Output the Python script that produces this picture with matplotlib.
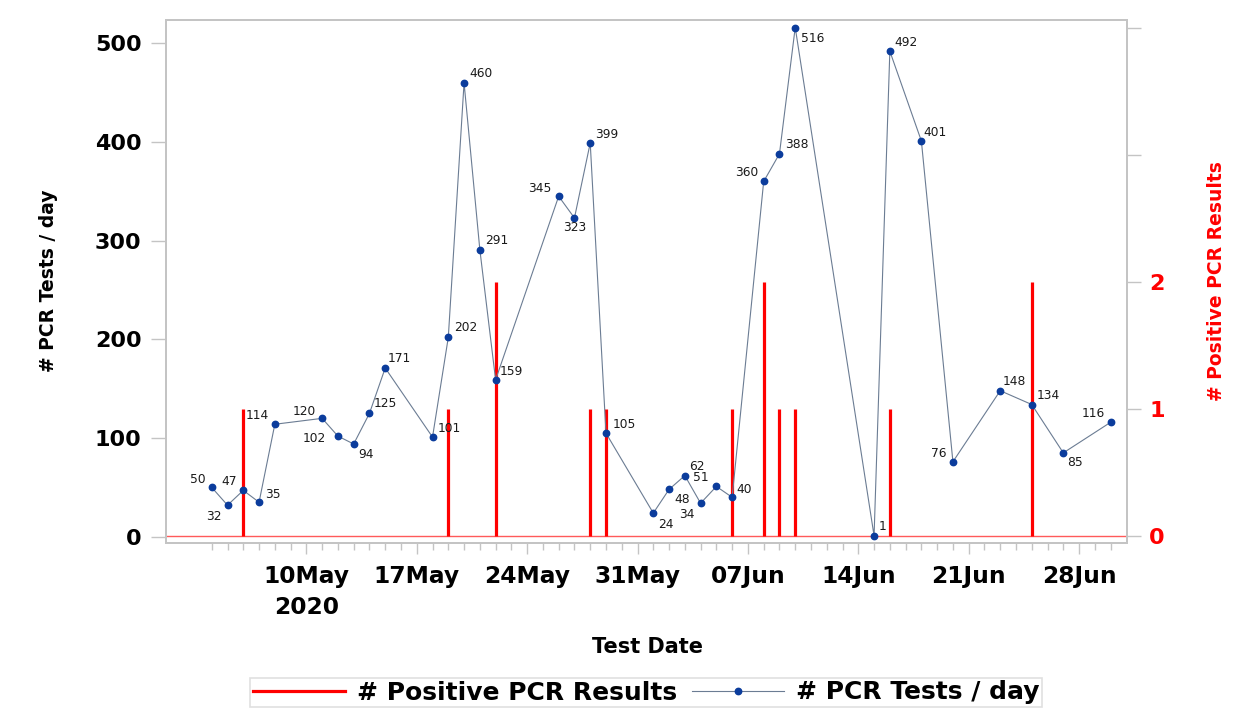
import matplotlib
matplotlib.use("Agg")
import matplotlib.pyplot as plt
import matplotlib.dates as mdates
from matplotlib.lines import Line2D
import numpy as np
import pandas as pd

# ---- data ----
test_dates = ["2020-05-04", "2020-05-05", "2020-05-06", "2020-05-07", "2020-05-08",
              "2020-05-11", "2020-05-12", "2020-05-13", "2020-05-14", "2020-05-15",
              "2020-05-18", "2020-05-19", "2020-05-20", "2020-05-21", "2020-05-22",
              "2020-05-26", "2020-05-27", "2020-05-28", "2020-05-29",
              "2020-06-01", "2020-06-02", "2020-06-03", "2020-06-04", "2020-06-05", "2020-06-06",
              "2020-06-08", "2020-06-09", "2020-06-10", "2020-06-15", "2020-06-16",
              "2020-06-18", "2020-06-20", "2020-06-23", "2020-06-25", "2020-06-27", "2020-06-30"]
tests_per_day = [50, 32, 47, 35, 114,
                 120, 102, 94, 125, 171,
                 101, 202, 460, 291, 159,
                 345, 323, 399, 105,
                 24, 48, 62, 34, 51, 40,
                 360, 388, 516, 1, 492,
                 401, 76, 148, 134, 85, 116]

positive_dates = ["2020-05-06", "2020-05-19", "2020-05-22", "2020-05-28", "2020-05-29",
                  "2020-06-06", "2020-06-08", "2020-06-09", "2020-06-10", "2020-06-16",
                  "2020-06-25"]
positive_results = [1, 1, 2, 1, 1, 1, 2, 1, 1, 1, 2]

major_tick_dates = ["2020-05-10", "2020-05-17", "2020-05-24", "2020-05-31",
                    "2020-06-07", "2020-06-14", "2020-06-21", "2020-06-28"]
major_tick_labels = ["10May\n2020", "17May", "24May", "31May",
                     "07Jun", "14Jun", "21Jun", "28Jun"]

left_ticks = [0, 100, 200, 300, 400, 500]
right_ticks = [0, 1, 2, 3, 4]
right_tick_labels = ["0", "1", "2", "", ""]

# label offsets in pixels (style only)
label_offsets = [(-14, 8), (-14, -11), (-14, 9), (14, 8), (-18, 9),
                 (-18, 7), (-24, -2), (12, -10), (16, 10), (14, 10),
                 (17, 9), (17, 10), (17, 9), (17, 9), (16, 8),
                 (-19, 8), (0, -10), (17, 8), (18, 9),
                 (13, -11), (13, -10), (12, 9), (-14, -11), (-16, 9), (12, 8),
                 (-17, 9), (17, 9), (17, -11), (8, 9), (16, 9),
                 (14, 9), (-14, 8), (14, 9), (17, 9), (12, -10), (-17, 9)]

td = pd.to_datetime(test_dates)
pdates = pd.to_datetime(positive_dates)

W, H = 1240, 719
fig = plt.figure(figsize=(W / 100, H / 100), dpi=100)
ax = fig.add_axes([165.7 / W, 1 - 542.7 / H, (1126.7 - 165.7) / W, (542.7 - 20) / H])
ax2 = ax.twinx()

frame_col = "#C4C4C4"
line_col = "#6B7C93"
mark_col = "#0B3C9C"

# right axis: positive results (bars)
ax2.axhline(0, color="#FF5A5A", lw=1.0, zorder=1)
ax2.vlines(pdates, 0, positive_results, color="#FF0000", lw=2.3, zorder=2)
ax2.set_ylim(-0.055, 4.064)
ax2.set_yticks(right_ticks)
ax2.set_yticklabels(right_tick_labels)

# left axis: tests per day (line on top)
ax.set_zorder(ax2.get_zorder() + 1)
ax.patch.set_visible(False)
ax.plot(td, tests_per_day, "-", color=line_col, lw=0.8, marker="o", ms=4.6,
        mfc=mark_col, mec=mark_col, zorder=3)
for d, v, (dx, dy) in zip(td, tests_per_day, label_offsets):
    ax.annotate(str(v), (d, v), xytext=(dx, dy), textcoords="offset pixels",
                ha="center", va="center", fontsize=8.8, color="#1A1A1A", zorder=4)
ax.set_ylim(-6.0, 523.6)
ax.set_yticks(left_ticks)

x10 = mdates.date2num(pd.Timestamp("2020-05-10"))
ax.set_xlim(x10 - 8.92, x10 + 52.02)

ax.set_xticks(pd.to_datetime(major_tick_dates))
ax.set_xticklabels(major_tick_labels, linespacing=1.45)
minor = pd.date_range(td.min(), td.max(), freq="D")
ax.set_xticks(minor, minor=True)

for a in (ax, ax2):
    for s in a.spines.values():
        s.set_color(frame_col)
        s.set_linewidth(1.3)

ax.tick_params(axis="x", which="major", length=8, width=1.0, color=frame_col,
               pad=8, labelsize=16.8)
ax.tick_params(axis="x", which="minor", length=5, width=1.0, color=frame_col)
ax.tick_params(axis="y", length=10.6, width=1.0, color=frame_col, pad=6.7,
               labelsize=16)
ax2.tick_params(axis="y", length=10.3, width=1.0, color=frame_col, pad=6,
                labelsize=16, labelcolor="#FF0000")
for lbl in ax.get_xticklabels() + ax.get_yticklabels():
    lbl.set_fontweight("bold")
for lbl in ax2.get_yticklabels():
    lbl.set_fontweight("bold")

fig.text(49 / W, 1 - 281 / H, "# PCR Tests / day", rotation=90, ha="center",
         va="center", fontsize=13.5, fontweight="bold", color="black")
fig.text(1216.7 / W, 1 - 281.5 / H, "# Positive PCR Results", rotation=90,
         ha="center", va="center", fontsize=13.5, fontweight="bold", color="#FF0000")
fig.text(648 / W, 1 - 647 / H, "Test Date", ha="center", va="center",
         fontsize=15, fontweight="bold")

handles = [Line2D([], [], color="#FF0000", lw=2.3),
           Line2D([], [], color=line_col, lw=0.8, marker="o", ms=4.6,
                  mfc=mark_col, mec=mark_col)]
leg = fig.legend(handles, ["# Positive PCR Results", "# PCR Tests / day"],
                 loc="center", bbox_to_anchor=(646 / W, 1 - 692.5 / H), ncol=2,
                 prop={"size": 18, "weight": "bold"}, frameon=True, fancybox=False,
                 handlelength=3.7, handletextpad=0.45, columnspacing=0.6,
                 borderpad=0.1)
leg.get_frame().set_edgecolor("#D8D8D8")
leg.get_frame().set_linewidth(1.2)

fig.savefig("out.png", dpi=100)
